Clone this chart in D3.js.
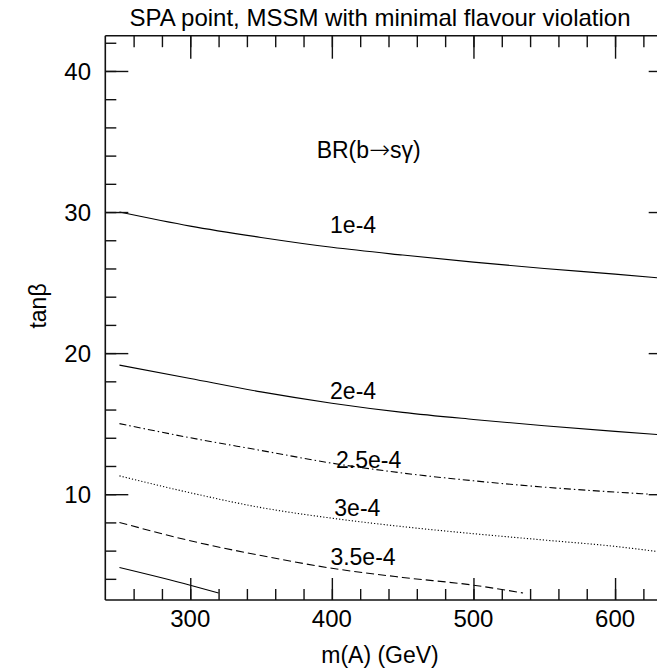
<!DOCTYPE html>
<html>
<head>
<meta charset="utf-8">
<script src="https://cdn.jsdelivr.net/npm/d3@7"></script>
<style>
  html, body { margin: 0; padding: 0; background: #fff; }
  svg { display: block; overflow: hidden; }
  text { font-family: "Liberation Sans", Arial, sans-serif; fill: #000; }
</style>
</head>
<body>
<script>
// ---- data ----
const titleText = "SPA point, MSSM with minimal flavour violation";
const xLabel = "m(A) (GeV)";
const yLabel = "tanβ";
const xDomain = [240, 640];
const yDomain = [2.5, 42.5];
const xMajorTicks = [300, 400, 500, 600];
const xMinorTicks = d3.range(260, 640, 20);
const yMajorTicks = [10, 20, 30, 40];
const yMinorTicks = d3.range(4, 43, 2);

const mA_1e4   = [250, 300, 350, 400, 450, 500, 550, 600, 640];
const tb_1e4   = [30.0, 29.0, 28.2, 27.5, 26.95, 26.45, 26.0, 25.6, 25.25];
const mA_2e4   = [250, 300, 350, 400, 450, 500, 550, 600, 640];
const tb_2e4   = [19.15, 18.2, 17.25, 16.45, 15.8, 15.3, 14.85, 14.45, 14.15];
const mA_25e4  = [250, 300, 350, 400, 450, 500, 550, 600, 625];
const tb_25e4  = [15.0, 14.0, 13.1, 12.2, 11.5, 10.95, 10.5, 10.15, 10.0];
const mA_3e4   = [250, 300, 350, 400, 450, 500, 550, 600, 640];
const tb_3e4   = [11.3, 10.1, 9.05, 8.3, 7.7, 7.2, 6.75, 6.3, 5.8];
const mA_35e4  = [250, 300, 350, 400, 450, 500, 535];
const tb_35e4  = [8.0, 6.7, 5.65, 4.75, 4.1, 3.55, 3.0];
const mA_4e4   = [250, 300, 320];
const tb_4e4   = [4.8, 3.55, 3.0];

const contourLabels = ["1e-4", "2e-4", "2.5e-4", "3e-4", "3.5e-4"];
const labelMA = [415, 415, 426, 418, 422];
const labelTB = [28.5, 16.76, 11.85, 8.45, 4.97];
const brParts = ["BR(b", "→", "sγ)"];
const brPos = [426, 33.85];

// ---- drawing ----
const W = 657, H = 671;
const svg = d3.select("body").append("svg").attr("width", W).attr("height", H);

const x = d3.scaleLinear().domain(xDomain).range([105.3, 671.7]);
const y = d3.scaleLinear().domain(yDomain).range([600, 35.7]);

const series = [
  {m: mA_1e4, t: tb_1e4, dash: null},
  {m: mA_2e4, t: tb_2e4, dash: null},
  {m: mA_25e4, t: tb_25e4, dash: "7,3,1.5,3"},
  {m: mA_3e4, t: tb_3e4, dash: "1.2,2"},
  {m: mA_35e4, t: tb_35e4, dash: "8,4"},
  {m: mA_4e4, t: tb_4e4, dash: null}
];

const line = d3.line().x(d => x(d[0])).y(d => y(d[1])).curve(d3.curveMonotoneX);

series.forEach(s => {
  svg.append("path")
    .datum(s.m.map((v, i) => [v, s.t[i]]))
    .attr("d", line)
    .attr("fill", "none")
    .attr("stroke", "#000")
    .attr("stroke-width", 1.1)
    .attr("stroke-dasharray", s.dash);
});

// axes
const axisColor = "#111";
const frame = svg.append("g");
frame.append("line").attr("x1", x(xDomain[0])).attr("x2", x(xDomain[1]))
  .attr("y1", y(yDomain[0])).attr("y2", y(yDomain[0])).attr("stroke", axisColor).attr("stroke-width", 1.6);
frame.append("line").attr("x1", x(xDomain[0])).attr("x2", x(xDomain[1]))
  .attr("y1", y(yDomain[1])).attr("y2", y(yDomain[1])).attr("stroke", axisColor).attr("stroke-width", 1.6);
frame.append("line").attr("x1", x(xDomain[0])).attr("x2", x(xDomain[0]))
  .attr("y1", y(yDomain[0])).attr("y2", y(yDomain[1])).attr("stroke", axisColor).attr("stroke-width", 1.6);

function styleAxis(g) {
  g.select(".domain").remove();
  g.selectAll(".tick line").attr("stroke", axisColor).attr("stroke-width", 1.4);
}

// bottom
svg.append("g").attr("transform", `translate(0,${y(yDomain[0])})`)
  .call(d3.axisTop(x).tickValues(xMinorTicks).tickSize(11).tickFormat(""))
  .call(styleAxis);
svg.append("g").attr("transform", `translate(0,${y(yDomain[0])})`)
  .call(d3.axisTop(x).tickValues(xMajorTicks).tickSize(22).tickFormat(""))
  .call(styleAxis);
// top
svg.append("g").attr("transform", `translate(0,${y(yDomain[1])})`)
  .call(d3.axisBottom(x).tickValues(xMinorTicks).tickSize(11.5).tickFormat(""))
  .call(styleAxis);
svg.append("g").attr("transform", `translate(0,${y(yDomain[1])})`)
  .call(d3.axisBottom(x).tickValues(xMajorTicks).tickSize(23).tickFormat(""))
  .call(styleAxis);
// left
svg.append("g").attr("transform", `translate(${x(xDomain[0])},0)`)
  .call(d3.axisRight(y).tickValues(yMinorTicks).tickSize(11).tickFormat(""))
  .call(styleAxis);
svg.append("g").attr("transform", `translate(${x(xDomain[0])},0)`)
  .call(d3.axisRight(y).tickValues(yMajorTicks).tickSize(23).tickFormat(""))
  .call(styleAxis);
// right (majors only)
svg.append("g").attr("transform", `translate(${x(xDomain[1])},0)`)
  .call(d3.axisLeft(y).tickValues(yMajorTicks).tickSize(23).tickFormat(""))
  .call(styleAxis);

// tick labels
svg.append("g").selectAll("text").data(xMajorTicks).join("text")
  .attr("x", d => x(d)).attr("y", 627)
  .attr("text-anchor", "middle").attr("font-size", 24)
  .text(d => d);
svg.append("g").selectAll("text").data(yMajorTicks).join("text")
  .attr("x", 91).attr("y", d => y(d) + 8.6)
  .attr("text-anchor", "end").attr("font-size", 24)
  .text(d => d);

// titles
svg.append("text").attr("x", 380).attr("y", 26).attr("text-anchor", "middle")
  .attr("font-size", 24).text(titleText);
svg.append("text").attr("x", 380).attr("y", 663).attr("text-anchor", "middle")
  .attr("font-size", 23).text(xLabel);
svg.append("text").attr("transform", "translate(46,306) rotate(-90)")
  .attr("text-anchor", "middle").attr("font-size", 23).text(yLabel);

// contour labels
svg.append("g").selectAll("text").data(contourLabels).join("text")
  .attr("x", (d, i) => x(labelMA[i])).attr("y", (d, i) => y(labelTB[i]))
  .attr("text-anchor", "middle").attr("font-size", 23)
  .text(d => d);
const br = svg.append("text").attr("x", x(brPos[0])).attr("y", y(brPos[1]))
  .attr("text-anchor", "middle").attr("font-size", 23);
br.append("tspan").text(brParts[0]);
br.append("tspan").attr("font-family", "DejaVu Sans").attr("font-size", 25).attr("font-weight", 300).text(brParts[1]);
br.append("tspan").text(brParts[2]);
</script>
</body>
</html>
